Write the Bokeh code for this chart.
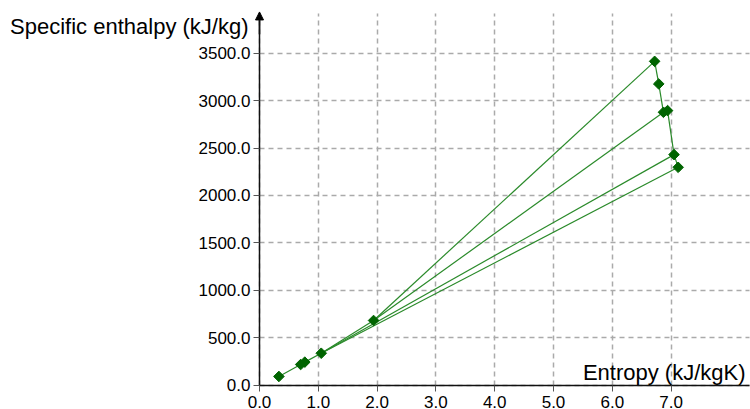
from bokeh.plotting import figure
from bokeh.models import Label, Arrow, NormalHead, FixedTicker, Range1d
from bokeh.embed import file_html
from bokeh.resources import INLINE

# State points (entropy kJ/kgK, specific enthalpy kJ/kg)
entropy = [0.33, 0.70, 0.77, 1.05, 1.94, 6.72, 6.79, 6.87, 6.94, 7.05, 7.12]
enthalpy = [92, 218, 243, 337, 682, 3414, 3176, 2877, 2895, 2431, 2297]

# connections between states (index pairs)
edge_from = [0, 1, 2, 3, 4, 5, 6, 7, 8, 9, 7, 9, 10]
edge_to   = [1, 2, 3, 4, 5, 6, 7, 8, 9, 10, 4, 3, 3]

x_ticks = [0, 1, 2, 3, 4, 5, 6, 7]
x_tick_labels = ["0.0", "1.0", "2.0", "3.0", "4.0", "5.0", "6.0", "7.0"]
y_ticks = [0, 500, 1000, 1500, 2000, 2500, 3000, 3500]
y_tick_labels = ["0.0", "500.0", "1000.0", "1500.0", "2000.0", "2500.0", "3000.0", "3500.0"]

X_MAX = 8.33
Y_MAX = 3917

p = figure(width=750, height=409, output_backend="svg", toolbar_location=None,
           x_range=Range1d(-4.4048, 8.3503), y_range=Range1d(-256.2, 4055.6),
           min_border_left=0, min_border_right=0, min_border_top=0, min_border_bottom=0)
p.outline_line_color = None
p.background_fill_color = "white"
p.border_fill_color = "white"

for ax, ticks, labels in ((p.xaxis[0], x_ticks, x_tick_labels), (p.yaxis[0], y_ticks, y_tick_labels)):
    ax.fixed_location = 0
    ax.ticker = FixedTicker(ticks=ticks)
    ax.major_label_overrides = {t: l for t, l in zip(ticks, labels)}
    ax.minor_tick_line_color = None
    ax.major_tick_in = 0
    ax.major_tick_out = 6
    ax.axis_line_color = "#111111"
    ax.axis_line_width = 1.5
    ax.major_tick_line_color = "#555555"
    ax.major_label_text_font = "Liberation Sans"
    ax.major_label_text_font_size = "17px"
    ax.major_label_text_color = "black"
p.xaxis[0].bounds = (0, X_MAX)
p.yaxis[0].bounds = (0, Y_MAX)
p.xaxis[0].major_label_standoff = 5
p.yaxis[0].major_label_standoff = 3

p.xgrid[0].ticker = FixedTicker(ticks=x_ticks)
p.ygrid[0].ticker = FixedTicker(ticks=y_ticks)
p.xgrid[0].cross_bounds = (0, Y_MAX)
p.ygrid[0].cross_bounds = (0, X_MAX)
for g in (p.xgrid[0], p.ygrid[0]):
    g.grid_line_color = "#aaaaaa"
    g.grid_line_dash = "5 4"
    g.grid_line_width = 1.5

xs0 = [entropy[i] for i in edge_from]
ys0 = [enthalpy[i] for i in edge_from]
xs1 = [entropy[i] for i in edge_to]
ys1 = [enthalpy[i] for i in edge_to]
p.segment(xs0, ys0, xs1, ys1, line_color="#2a8a2a", line_width=1.2)
p.scatter(entropy, enthalpy, marker="square", angle=0.785398, size=7.5,
          fill_color="#006400", line_color="#006400")

p.add_layout(Arrow(end=NormalHead(size=8, fill_color="black", line_color="black"),
                   x_start=0, y_start=3700, x_end=0, y_end=3935,
                   line_color="#111111", line_width=1.5))

p.add_layout(Label(x=-0.187, y=3780, text="Specific enthalpy (kJ/kg)", text_align="right",
                   text_baseline="alphabetic", text_font="Liberation Sans",
                   text_font_size="22px", text_color="black"))
p.add_layout(Label(x=8.265, y=130, text="Entropy (kJ/kgK)", text_align="right",
                   text_baseline="alphabetic", text_font="Liberation Sans",
                   text_font_size="22px", text_color="black"))

open("out.html", "w").write(file_html(p, INLINE))
